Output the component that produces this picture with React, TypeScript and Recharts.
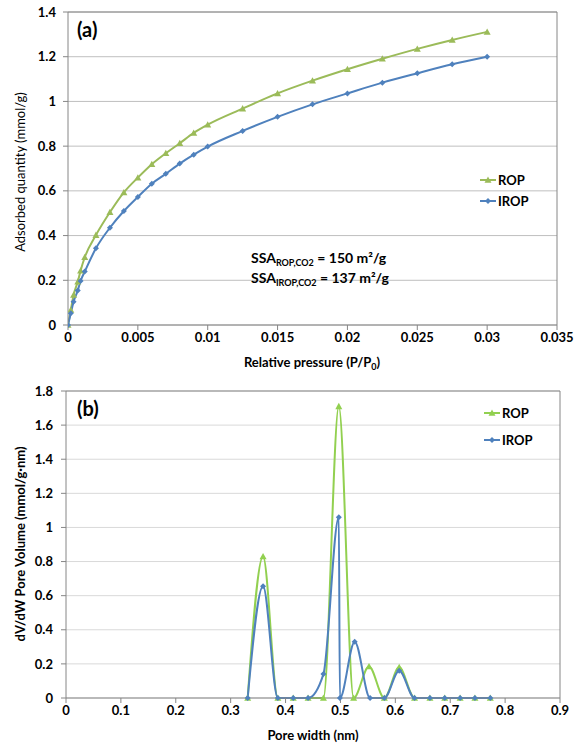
import React from 'react';
import { LineChart, Line, XAxis, YAxis, CartesianGrid, ReferenceLine, Legend, Label } from 'recharts';

// (a) CO2 adsorption isotherms
const relPressure = [0, 0.0002, 0.0004, 0.0007, 0.0009, 0.0012, 0.002, 0.003, 0.004, 0.005, 0.006, 0.007, 0.008, 0.009, 0.01, 0.0125, 0.015, 0.0175, 0.02, 0.0225, 0.025, 0.0275, 0.03];
const ropAdsorbed = [0, 0.067, 0.134, 0.194, 0.243, 0.303, 0.402, 0.504, 0.593, 0.659, 0.719, 0.768, 0.813, 0.859, 0.896, 0.968, 1.036, 1.093, 1.144, 1.191, 1.235, 1.275, 1.311];
const iropAdsorbed = [0, 0.052, 0.104, 0.154, 0.197, 0.239, 0.343, 0.435, 0.51, 0.573, 0.632, 0.676, 0.722, 0.762, 0.798, 0.868, 0.931, 0.987, 1.036, 1.084, 1.126, 1.166, 1.2];
const pressureTicks = [0, 0.005, 0.01, 0.015, 0.02, 0.025, 0.03, 0.035];
const adsorbedTicks = [0, 0.2, 0.4, 0.6, 0.8, 1, 1.2, 1.4];

// (b) pore size distribution
const poreWidthRop = [0.331, 0.359, 0.386, 0.414, 0.441, 0.469, 0.497, 0.524, 0.552, 0.58, 0.607, 0.635, 0.663, 0.69, 0.718, 0.745, 0.773];
const ropVolume = [0, 0.83, 0, 0, 0, 0, 1.71, 0, 0.185, 0, 0.18, 0, 0, 0, 0, 0, 0];
const poreWidthIrop = [0.331, 0.359, 0.386, 0.414, 0.441, 0.469, 0.497, 0.499, 0.526, 0.554, 0.58, 0.607, 0.635, 0.663, 0.69, 0.718, 0.745, 0.773];
const iropVolume = [0, 0.655, 0, 0, 0, 0.14, 1.06, 0, 0.33, 0, 0, 0.16, 0, 0, 0, 0, 0, 0];
const widthTicks = [0, 0.1, 0.2, 0.3, 0.4, 0.5, 0.6, 0.7, 0.8, 0.9];
const volumeTicks = [0, 0.2, 0.4, 0.6, 0.8, 1, 1.2, 1.4, 1.6, 1.8];

const legendOrder = ['ROP', 'IROP'];

const GREEN_A = '#9BBB59';
const GREEN_B = '#92D050';
const BLUE = '#4F81BD';
const FONT = 'Lato, "Liberation Sans", sans-serif';
const tickStyle = { fontSize: 13, fontWeight: 700, fill: '#000', fontFamily: FONT };

const toPoints = (xs: number[], ys: number[]) => xs.map((x, i) => ({ x, y: ys[i] }));

const triangle = (color: string, r: number) => (props: any) => {
  const { cx, cy, index } = props;
  if (cx == null || cy == null) return <g key={index} />;
  return <path key={index} d={`M${cx},${cy - r}L${cx + r},${cy + r * 0.8}L${cx - r},${cy + r * 0.8}Z`} fill={color} />;
};

const diamond = (color: string, r: number) => (props: any) => {
  const { cx, cy, index } = props;
  if (cx == null || cy == null) return <g key={index} />;
  return <path key={index} d={`M${cx},${cy - r}L${cx + r},${cy}L${cx},${cy + r}L${cx - r},${cy}Z`} fill={color} />;
};

const makeLegend = (gap: number) => (props: any) => {
  const items = [...(props.payload || [])].sort(
    (a: any, b: any) => legendOrder.indexOf(a.value) - legendOrder.indexOf(b.value)
  );
  return (
    <svg width={80} height={gap * items.length + 6}>
      {items.map((it: any, i: number) => {
        const y = 9 + i * gap;
        const c = it.color;
        const isRop = it.value === 'ROP';
        return (
          <g key={it.value}>
            <line x1={2} y1={y} x2={18} y2={y} stroke={c} strokeWidth={2} />
            {isRop
              ? <path d={`M10,${y - 3.5}L13.5,${y + 2.8}L6.5,${y + 2.8}Z`} fill={c} />
              : <path d={`M10,${y - 3}L13,${y}L10,${y + 3}L7,${y}Z`} fill={c} />}
            <text x={20} y={y + 5} fontSize={13} fontWeight={700} fontFamily={FONT} fill="#000">{it.value}</text>
          </g>
        );
      })}
    </svg>
  );
};

const vTitle = (x: number, y: number, text: string, weight: number) => () => (
  <text x={x} y={y} transform={`rotate(-90 ${x} ${y})`} textAnchor="middle" dominantBaseline="middle"
    fontSize={13} fontWeight={weight} fontFamily={FONT} fill="#000">{text}</text>
);

export default function App() {
  const ropA = toPoints(relPressure, ropAdsorbed);
  const iropA = toPoints(relPressure, iropAdsorbed);
  const ropB = toPoints(poreWidthRop, ropVolume);
  const iropB = toPoints(poreWidthIrop, iropVolume);

  return (
    <div style={{ position: 'absolute', left: 0, top: 0, width: 574, height: 746, background: '#fff' }}>
      <div style={{ position: 'absolute', left: 0, top: 0 }}>
        <LineChart width={574} height={372} margin={{ top: 12, right: 17, bottom: 22, left: 0 }}>
          <CartesianGrid vertical={false} stroke="#BFBFBF" />
          <XAxis dataKey="x" type="number" domain={[0, 0.035]} ticks={pressureTicks} allowDataOverflow
            tick={tickStyle} tickSize={5} tickMargin={3} stroke="#868686" height={25} interval={0}>
            <Label content={() => (
              <text x={312} y={367} textAnchor="middle" fontSize={13} fontWeight={700} fontFamily={FONT} fill="#000">
                Relative pressure (P/P<tspan fontSize={9} dy={3}>0</tspan><tspan dy={-3}>)</tspan>
              </text>
            )} />
          </XAxis>
          <YAxis type="number" domain={[0, 1.4]} ticks={adsorbedTicks} tick={tickStyle} tickSize={5} tickMargin={7}
            stroke="#868686" width={68} interval={0}>
            <Label content={vTitle(22, 172, 'Adsorbed quantity (mmol/g)', 400)} />
          </YAxis>
          <ReferenceLine x={0.035} stroke="#868686" />
          <ReferenceLine y={1.4} stroke="#868686" />
          <Line data={ropA} dataKey="y" name="ROP" type="monotone" stroke={GREEN_A} strokeWidth={2}
            dot={triangle(GREEN_A, 3.5)} isAnimationActive={false} />
          <Line data={iropA} dataKey="y" name="IROP" type="monotone" stroke={BLUE} strokeWidth={2}
            dot={diamond(BLUE, 3)} isAnimationActive={false} />
          <Legend layout="vertical" align="center" verticalAlign="middle" content={makeLegend(21)}
            wrapperStyle={{ left: 478, top: 171, width: 80 }} />
        </LineChart>
      </div>
      <div style={{ position: 'absolute', left: 0, top: 372 }}>
        <LineChart width={574} height={374} margin={{ top: 19, right: 14, bottom: 23, left: 0 }}>
          <CartesianGrid vertical={false} stroke="#D9D9D9" />
          <XAxis dataKey="x" type="number" domain={[0, 0.9]} ticks={widthTicks} tick={tickStyle} tickSize={5}
            tickMargin={3} stroke="#868686" height={25} interval={0}>
            <Label content={() => (
              <text x={313} y={368} textAnchor="middle" fontSize={13} fontWeight={700} fontFamily={FONT} fill="#000">
                Pore width (nm)
              </text>
            )} />
          </XAxis>
          <YAxis type="number" domain={[0, 1.8]} ticks={volumeTicks} tick={tickStyle} tickSize={5} tickMargin={8}
            stroke="#868686" width={66} interval={0}>
            <Label content={vTitle(22, 172, 'dV/dW Pore Volume (mmol/g·nm)', 700)} />
          </YAxis>
          <ReferenceLine x={0.9} stroke="#868686" />
          <ReferenceLine y={1.8} stroke="#868686" />
          <Line data={ropB} dataKey="y" name="ROP" type="monotone" stroke={GREEN_B} strokeWidth={2}
            dot={triangle(GREEN_B, 3.5)} isAnimationActive={false} />
          <Line data={iropB} dataKey="y" name="IROP" type="monotone" stroke={BLUE} strokeWidth={2}
            dot={diamond(BLUE, 3)} isAnimationActive={false} />
          <Legend layout="vertical" align="center" verticalAlign="middle" content={makeLegend(27)}
            wrapperStyle={{ left: 482, top: 32, width: 80 }} />
        </LineChart>
      </div>
      <svg width={574} height={746} style={{ position: 'absolute', left: 0, top: 0, pointerEvents: 'none' }}>
        <g fontFamily={FONT} fontWeight={700} fill="#000">
          <text x={77} y={37} fontSize={20}>(a)</text>
          <text x={77} y={416} fontSize={20}>(b)</text>
          <text x={251} y={263} fontSize={14}>
            SSA<tspan fontSize={9} dy={3}>ROP,CO2</tspan><tspan dy={-3}> = 150 m²/g</tspan>
          </text>
          <text x={251} y={283} fontSize={14}>
            SSA<tspan fontSize={9} dy={3}>IROP,CO2</tspan><tspan dy={-3}> = 137 m²/g</tspan>
          </text>
        </g>
      </svg>
    </div>
  );
}
